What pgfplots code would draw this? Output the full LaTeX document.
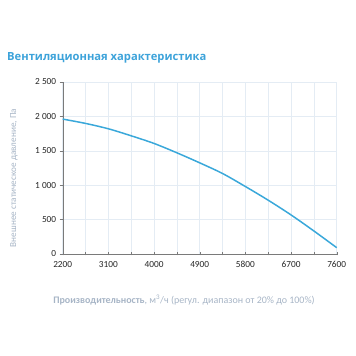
\documentclass[border=0pt]{standalone}
\usepackage{fontspec}
\setmainfont{Carlito}
\newfontfamily\titlefont{Open Sans}
\usepackage{pgfplots}
\pgfplotsset{compat=1.18}
\definecolor{curve}{HTML}{3AA8DA}
\definecolor{titleblue}{HTML}{3DA3DA}
\definecolor{labelgray}{HTML}{A7B5C6}
\definecolor{gridc}{HTML}{E4ECF4}
\definecolor{axisc}{HTML}{7A7A7A}
\begin{document}
\begin{tikzpicture}[x=1pt,y=1pt]
\path[use as bounding box] (0,0) rectangle (356,356);
\node[anchor=west,inner sep=0pt,text=titleblue,font=\titlefont\bfseries\fontsize{11.2}{13}\selectfont] at (7,298) {Вентиляционная характеристика};
\begin{axis}[
  at={(62.7pt,102pt)}, anchor=origin,
  scale only axis, width=274pt, height=172pt,
  xmin=2200, xmax=7600, ymin=0, ymax=2500,
  axis lines=left,
  axis line style={axisc,-},
  xtick={2200,2650,...,7600},
  xticklabels={2200,,3100,,4000,,4900,,5800,,6700,,7600},
  ytick={0,500,1000,1500,2000,2500},
  yticklabels={0,500,1 000,1 500,2 000,2 500},
  tick style={axisc},
  major tick length=3pt,
  xtick align=center, ytick align=outside,
  grid=major, major grid style={gridc,line width=0.5pt},
  ticklabel style={font=\fontsize{9.3}{10}\selectfont, text=black!85},
  xticklabel style={yshift=-2pt},
  /pgf/number format/assume math mode=true,
  clip=false,
]
\addplot[curve, line width=1.5pt, smooth] coordinates {
 (2200,1961) (2650,1898) (3100,1820) (3550,1718) (4000,1607) (4450,1471)
 (4900,1325) (5350,1170) (5800,981) (6250,782) (6700,568) (7150,335) (7600,92)};
\end{axis}
\node[rotate=90,text=labelgray,inner sep=0pt,font=\fontsize{9.2}{10}\selectfont] at (14,178) {Внешнее статическое давление, Па};
\node[text=labelgray,inner sep=0pt,font=\fontsize{10}{11}\selectfont] at (184,56) {\textbf{Производительность}, м\textsuperscript{3}/ч (регул. диапазон от 20\% до 100\%)};
\end{tikzpicture}
\end{document}
